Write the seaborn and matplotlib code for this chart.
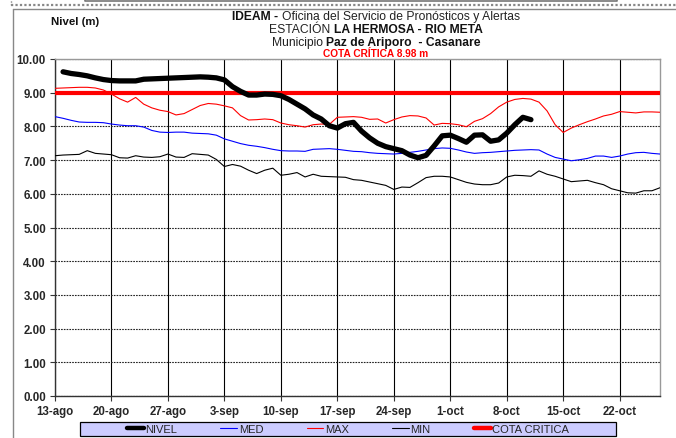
import matplotlib
matplotlib.use("Agg")
import matplotlib.pyplot as plt
from matplotlib.lines import Line2D
from matplotlib.patches import Rectangle
import seaborn as sns
import pandas as pd

# Daily record, 13-ago (day 0) to 27-oct (day 75)
dias = list(range(76))
nivel_dias = list(range(1, 60))

nivel = [9.62, 9.57, 9.54, 9.50, 9.44, 9.39, 9.36, 9.35, 9.35, 9.35,
         9.40, 9.41, 9.42, 9.43, 9.44, 9.45, 9.46, 9.47, 9.46, 9.44,
         9.38, 9.18, 9.04, 8.93, 8.93, 8.96, 8.95, 8.91, 8.80, 8.66,
         8.52, 8.34, 8.22, 8.02, 7.95, 8.08, 8.12, 7.86, 7.66, 7.50,
         7.40, 7.34, 7.28, 7.15, 7.07, 7.14, 7.42, 7.72, 7.74, 7.64,
         7.53, 7.74, 7.75, 7.56, 7.60, 7.80, 8.05, 8.27, 8.20]

maximo = [9.13, 9.14, 9.15, 9.16, 9.16, 9.14, 9.08, 8.96, 8.82, 8.72,
          8.86, 8.66, 8.55, 8.48, 8.44, 8.34, 8.38, 8.50, 8.62, 8.68,
          8.66, 8.61, 8.55, 8.32, 8.19, 8.20, 8.22, 8.20, 8.10, 8.05,
          8.02, 7.98, 8.05, 8.07, 8.06, 8.27, 8.28, 8.29, 8.27, 8.21,
          8.22, 8.10, 8.20, 8.28, 8.32, 8.31, 8.25, 8.04, 8.09, 8.08,
          8.05, 7.99, 8.15, 8.23, 8.38, 8.58, 8.72, 8.80, 8.83, 8.81,
          8.72, 8.46, 8.05, 7.82, 7.95, 8.05, 8.14, 8.22, 8.31, 8.36,
          8.44, 8.42, 8.40, 8.43, 8.43, 8.42]

medio = [8.29, 8.24, 8.18, 8.13, 8.12, 8.12, 8.11, 8.07, 8.04, 8.02,
         8.02, 7.98, 7.88, 7.83, 7.82, 7.83, 7.83, 7.80, 7.79, 7.78,
         7.74, 7.63, 7.56, 7.49, 7.44, 7.41, 7.37, 7.32, 7.28, 7.27,
         7.27, 7.26, 7.32, 7.33, 7.34, 7.32, 7.29, 7.26, 7.25, 7.22,
         7.20, 7.19, 7.18, 7.20, 7.23, 7.26, 7.30, 7.34, 7.36, 7.35,
         7.30, 7.24, 7.20, 7.22, 7.23, 7.25, 7.27, 7.29, 7.30, 7.31,
         7.30, 7.18, 7.08, 7.03, 6.98, 7.01, 7.05, 7.12, 7.12, 7.08,
         7.12, 7.18, 7.22, 7.23, 7.20, 7.18]

minimo = [7.13, 7.15, 7.16, 7.17, 7.28, 7.20, 7.18, 7.16, 7.07, 7.06,
          7.13, 7.09, 7.08, 7.10, 7.18, 7.09, 7.08, 7.19, 7.17, 7.15,
          7.02, 6.81, 6.87, 6.82, 6.70, 6.60, 6.70, 6.76, 6.55, 6.58,
          6.63, 6.50, 6.58, 6.52, 6.51, 6.50, 6.49, 6.42, 6.40, 6.35,
          6.30, 6.25, 6.13, 6.20, 6.19, 6.33, 6.48, 6.52, 6.52, 6.50,
          6.42, 6.34, 6.29, 6.27, 6.27, 6.32, 6.50, 6.55, 6.54, 6.52,
          6.68, 6.58, 6.52, 6.44, 6.36, 6.38, 6.40, 6.33, 6.27, 6.15,
          6.09, 6.03, 6.02, 6.09, 6.09, 6.18]

cota_critica = 8.98

tick_dias = [0, 7, 14, 21, 28, 35, 42, 49, 56, 63, 70]
tick_fechas = ["13-ago", "20-ago", "27-ago", "3-sep", "10-sep", "17-sep",
               "24-sep", "1-oct", "8-oct", "15-oct", "22-oct"]
y_ticks = [0, 1, 2, 3, 4, 5, 6, 7, 8, 9, 10]

serie_labels = ["NIVEL", "MED", "MAX", "MIN", "COTA CRITICA"]

sns.set_style("white")
plt.rcParams["font.family"] = ["Liberation Sans", "DejaVu Sans"]

W, H = 676, 439
fig = plt.figure(figsize=(W / 100, H / 100), dpi=100)
ax = fig.add_axes([55 / W, 1 - 397 / H, (660 - 55) / W, (397 - 60) / H])

hist = pd.DataFrame({"dia": dias, "MAX": maximo, "MED": medio, "MIN": minimo,
                     "COTA": [cota_critica] * len(dias)})
obs = pd.DataFrame({"dia": nivel_dias, "NIVEL": nivel})

sns.lineplot(data=hist, x="dia", y="MIN", ax=ax, color="black", lw=0.8, zorder=3)
sns.lineplot(data=hist, x="dia", y="MED", ax=ax, color="#0000FF", lw=0.8, zorder=3)
sns.lineplot(data=hist, x="dia", y="MAX", ax=ax, color="#FF0000", lw=0.8, zorder=3)
sns.lineplot(data=hist, x="dia", y="COTA", ax=ax, color="#FF0000", lw=3.0, zorder=4)
sns.lineplot(data=obs, x="dia", y="NIVEL", ax=ax, color="black", lw=3.8, zorder=5)

ax.set_xlim(0, 75)
ax.set_ylim(0, 10)
ax.set_xlabel("")
ax.set_ylabel("")
ax.set_xticks(tick_dias)
ax.set_xticklabels(tick_fechas)
ax.set_yticks(y_ticks)
ax.set_yticklabels([f"{v:.2f}" for v in y_ticks])
ax.tick_params(axis="both", labelsize=8.3, length=3.5, width=0.8, color="#333333",
               direction="out", left=True, bottom=True)
ax.tick_params(axis="y", pad=3)
ax.tick_params(axis="x", pad=3)
for lab in ax.get_xticklabels() + ax.get_yticklabels():
    lab.set_fontweight("bold")

ax.xaxis.grid(True, color="black", lw=0.8, ls="-")
ax.yaxis.grid(True, color="#222222", lw=0.8, ls=(0, (1.5, 1)))
ax.set_axisbelow(True)
for side in ("left", "bottom"):
    ax.spines[side].set_color("#333333")
    ax.spines[side].set_linewidth(1.0)
for side in ("top", "right"):
    ax.spines[side].set_color("#999999")
    ax.spines[side].set_linewidth(1.0)
    ax.spines[side].set_visible(True)

# Outer frame and page decorations
fig.add_artist(Line2D([13 / W, 13 / W], [0, 1 - 10 / H], color="#888888", lw=1.0))
fig.add_artist(Line2D([13 / W, 1], [1 - 10 / H, 1 - 10 / H], color="#888888", lw=1.0))
fig.add_artist(Line2D([11 / W, 1], [1 - 6 / H, 1 - 6 / H], color="#888888", lw=1.6,
                      ls=(0, (1, 1))))
fig.add_artist(Line2D([11 / W, 11 / W], [1 - 6 / H, 1], color="#888888", lw=1.0,
                      ls=(0, (1, 1))))
fig.add_artist(Line2D([85 / W, 85 / W, 617 / W, 617 / W], [1, 1 - 1.5 / H, 1 - 1.5 / H, 1],
                      color="#777777", lw=1.2))

# Title block with mixed weights on each line
renderer = fig.canvas.get_renderer()


def title_line(y_px, pieces, cx_px=376, size=8.7, gap=3.0):
    texts = []
    for s, weight, color, fs in pieces:
        t = fig.text(0, 1 - y_px / H, s, fontsize=fs or size, fontweight=weight,
                     color=color, va="center", ha="left")
        texts.append(t)
    widths = [t.get_window_extent(renderer).width for t in texts]
    total = sum(widths) + gap * (len(texts) - 1)
    x = cx_px - total / 2
    for t, w in zip(texts, widths):
        t.set_x(x / W)
        x += w + gap


title_line(17, [("IDEAM -", "bold", "#111111", None),
                ("Oficina del Servicio de Pronósticos y Alertas", "normal", "#222222", None)])
title_line(30, [("ESTACIÓN", "normal", "#222222", None),
                ("LA HERMOSA - RIO META", "bold", "#111111", None)], gap=4)
title_line(43, [("Municipio", "normal", "#222222", None),
                ("Paz de Ariporo  - Casanare", "bold", "#111111", None)])
title_line(54, [(f"COTA CRÍTICA {cota_critica:.2f} m", "bold", "#FF0000", 7.3)])

fig.text(75 / W, 1 - 22 / H, "Nivel (m)", fontsize=8.2, fontweight="bold",
         ha="center", va="center", color="#111111")

# Legend band under the axis
fig.add_artist(Rectangle((80 / W, 1 - 437 / H), (616 - 80) / W, 14 / H,
                         transform=fig.transFigure, facecolor="#CCCCFF",
                         edgecolor="black", lw=0.9, zorder=1))
handles = [Line2D([], [], color="black", lw=3.2),
           Line2D([], [], color="#0000FF", lw=0.8),
           Line2D([], [], color="#FF0000", lw=0.8),
           Line2D([], [], color="black", lw=0.8),
           Line2D([], [], color="#FF0000", lw=3.2)]
leg = fig.legend(handles, serie_labels, loc="center", bbox_to_anchor=(348 / W, 1 - 430 / H),
                 ncol=5, frameon=False, fontsize=8, handlelength=1.5, handletextpad=0.15,
                 columnspacing=3.9, borderpad=0.1)
leg.set_zorder(2)

fig.savefig("out.png", dpi=100)
